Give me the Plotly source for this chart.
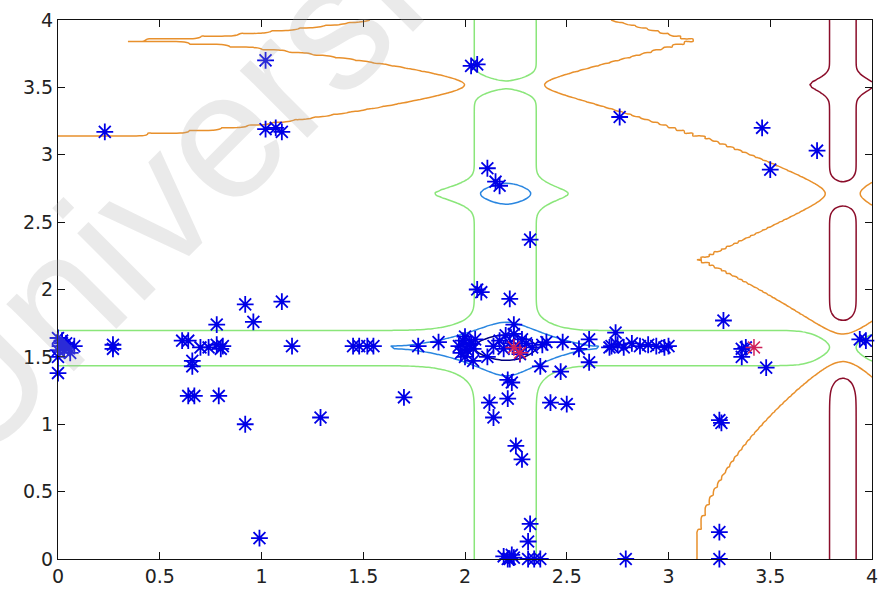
import numpy as np
import plotly.graph_objects as go

# Sample points (blue asterisks)
pts_x = [0.23, 1.02, 1.02, 1.07, 1.10, 2.03, 2.06, 2.11, 2.15, 2.17, 2.76, 3.46, 3.73, 3.50, 2.32,
         0.00, 0.02, 0.04, 0.01, 0.05, 0.03, 0.08, 0.06, 0.00, 0.02, 0.00, 0.00,
         0.27, 0.27, 0.61, 0.64, 0.66, 0.66, 0.70, 0.74, 0.78, 0.80, 0.81,
         0.78, 0.92, 0.96, 1.10, 1.15, 0.64, 0.67, 0.79, 0.92, 0.99, 1.29, 1.70,
         1.45, 1.48, 1.52, 1.55, 1.77, 1.87,
         2.06, 2.08, 2.22, 2.24,
         1.97, 1.99, 2.01, 2.03, 2.00, 2.05, 1.98, 2.04, 2.02, 2.04, 2.00, 2.11,
         2.17, 2.20, 2.22, 2.26, 2.30, 2.33, 2.24, 2.14, 2.19, 2.28, 2.27,
         2.40, 2.38, 2.48, 2.56, 2.61, 2.72, 2.37, 2.47, 2.61,
         2.21, 2.23, 2.21, 2.12, 2.14, 2.42, 2.50, 2.25, 2.28, 2.32, 2.31,
         2.19, 2.21, 2.23, 2.24, 2.22, 2.31, 2.34, 2.37,
         2.74, 2.71, 2.75, 2.78, 2.82, 2.86, 2.90, 2.94, 2.98, 3.00,
         3.27, 3.36, 3.38, 3.36, 3.48, 3.94, 3.97, 3.25, 3.26, 3.25, 3.25, 2.79]
pts_y = [3.17, 3.70, 3.19, 3.20, 3.17, 3.66, 3.67, 2.90, 2.80, 2.77, 3.28, 3.20, 3.03, 2.89, 2.37,
         1.64, 1.62, 1.60, 1.58, 1.57, 1.55, 1.58, 1.53, 1.55, 1.60, 1.50, 1.38,
         1.59, 1.56, 1.62, 1.62, 1.47, 1.43, 1.57, 1.57, 1.59, 1.56, 1.58,
         1.74, 1.89, 1.76, 1.91, 1.58, 1.21, 1.21, 1.21, 1.00, 0.155, 1.05, 1.20,
         1.58, 1.58, 1.58, 1.58, 1.58, 1.61,
         2.00, 1.98, 1.93, 1.74,
         1.58, 1.62, 1.55, 1.60, 1.65, 1.63, 1.53, 1.56, 1.59, 1.47, 1.50, 1.50,
         1.62, 1.66, 1.60, 1.58, 1.60, 1.57, 1.67, 1.58, 1.56, 1.63, 1.52,
         1.61, 1.59, 1.61, 1.56, 1.63, 1.58, 1.43, 1.39, 1.46,
         1.33, 1.31, 1.19, 1.16, 1.05, 1.16, 1.15, 0.84, 0.74, 0.26, 0.13,
         0.02, 0.00, 0.03, 0.01, 0.00, 0.00, 0.00, 0.00,
         1.68, 1.57, 1.59, 1.57, 1.60, 1.58, 1.59, 1.58, 1.57, 1.58,
         1.77, 1.56, 1.57, 1.50, 1.42, 1.63, 1.62, 1.03, 1.01, 0.20, 0.00, 0.00]

# Highlighted points (red asterisks)
best_x = [2.24, 2.27, 3.42]
best_y = [1.57, 1.53, 1.57]

# Grid and contour levels for the 2-D Michalewicz surface (m = 10)
grid_x = np.linspace(0, 4, 201)
grid_y = np.linspace(0, 4, 201)
m = 10
levels = [-1.5, -1.0, -0.5, 0.0, 0.5]
level_colors = ["#00007f", "#2a86e0", "#8ae67a", "#e8902c", "#8b0d2a"]

tick_vals = [0, 0.5, 1, 1.5, 2, 2.5, 3, 3.5, 4]
tick_text = ["0", "0.5", "1", "1.5", "2", "2.5", "3", "3.5", "4"]

X, Y = np.meshgrid(grid_x, grid_y)
Z = -(np.sin(X) * np.sin(X ** 2 / np.pi) ** (2 * m)
      + np.sin(Y) * np.sin(2 * Y ** 2 / np.pi) ** (2 * m))

n = len(levels)
cscale = [[i / (n - 1), c] for i, c in enumerate(level_colors)]

fig = go.Figure()
fig.add_trace(go.Contour(
    x=grid_x, y=grid_y, z=Z,
    zmin=levels[0], zmax=levels[-1], zauto=False,
    contours=dict(start=levels[0], end=levels[-1], size=levels[1] - levels[0],
                  coloring="lines"),
    colorscale=cscale, showscale=False,
    line=dict(width=1.5),
    hoverinfo="skip",
))
fig.add_trace(go.Scatter(
    x=pts_x, y=pts_y, mode="markers", cliponaxis=False,
    marker=dict(symbol="asterisk-open", size=14, color="#0000e6",
                line=dict(color="#0000e6", width=1.8)),
    showlegend=False,
))
fig.add_trace(go.Scatter(
    x=best_x, y=best_y, mode="markers", cliponaxis=False,
    marker=dict(symbol="asterisk-open", size=14, color="#d0205a",
                line=dict(color="#d0205a", width=1.5)),
    showlegend=False,
))

axis_style = dict(
    range=[0, 4], tickvals=tick_vals, ticktext=tick_text,
    ticks="inside", ticklen=7, tickcolor="#111", tickwidth=1,
    showline=True, linecolor="#111", linewidth=1, mirror="ticks",
    showgrid=False, zeroline=False, ticklabeloverflow="allow",
    tickfont=dict(family="DejaVu Sans", size=19, color="#222"),
)
fig.update_xaxes(**axis_style)
fig.update_yaxes(**axis_style)

fig.add_annotation(
    text="University", xref="paper", yref="paper",
    x=(209 - 58) / 820, y=(563 - 149) / 543,
    xanchor="center", yanchor="middle",
    showarrow=False, textangle=-45,
    font=dict(family="Liberation Sans", size=180, color="rgba(170,170,170,0.25)"),
)

fig.update_layout(
    width=882, height=591,
    margin=dict(l=58, r=4, t=20, b=28),
    paper_bgcolor="white", plot_bgcolor="white",
    showlegend=False,
)

fig.write_html("out.html")
